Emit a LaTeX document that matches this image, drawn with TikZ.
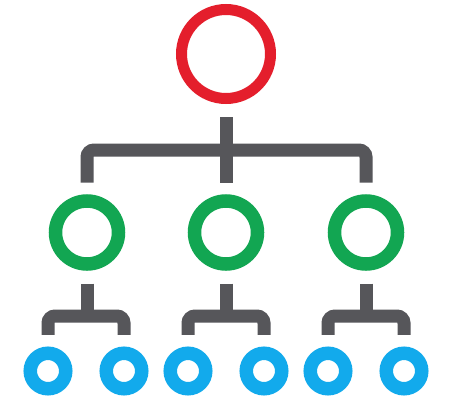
\documentclass[tikz,border=0pt]{standalone}
\begin{document}
\begin{tikzpicture}[x=1pt,y=-1pt,
  ring/.style={circle,draw,inner sep=0pt,outer sep=0pt},
  rootring/.style={ring,draw=redc,line width=11pt,minimum size=89pt},
  midring/.style={ring,draw=greenc,line width=13.5pt,minimum size=63pt},
  leafring/.style={ring,draw=bluec,line width=13.5pt,minimum size=35.5pt},
  conn/.style={draw=grayc,line width=13pt,line cap=butt,rounded corners=7pt}]
\definecolor{redc}{RGB}{228,30,44}
\definecolor{greenc}{RGB}{18,166,82}
\definecolor{bluec}{RGB}{18,170,236}
\definecolor{grayc}{RGB}{86,86,90}
\useasboundingbox (0,0) rectangle (449,402);
\fill[white] (0,0) rectangle (449,402);
% rings
\node[rootring] (root) at (226,54) {};
\node[midring] (g1) at (87,232.5) {};
\node[midring] (g2) at (226,232.5) {};
\node[midring] (g3) at (366,232.5) {};
\node[leafring] (b1) at (48,371) {};
\node[leafring] (b2) at (124,371) {};
\node[leafring] (b3) at (188,371) {};
\node[leafring] (b4) at (264,371) {};
\node[leafring] (b5) at (328,371) {};
\node[leafring] (b6) at (404,371) {};
% junction levels
\coordinate (top) at (226,150);
\coordinate (j1) at (87,316);
\coordinate (j2) at (226,316);
\coordinate (j3) at (366,316);
% top level connectors
\draw[conn] ([yshift=-18.5pt]root.south) -- (top);
\draw[conn] ([yshift=18.5pt]g1.north) -- (g1.north |- top) -- (g3.north |- top) -- ([yshift=18.5pt]g3.north);
\draw[conn] (top) -- ([yshift=18.5pt]g2.north);
% lower connectors
\draw[conn] ([yshift=-19.5pt]g1.south) -- (j1);
\draw[conn] ([yshift=18.5pt]b1.north) -- (b1.north |- j1) -- (b2.north |- j1) -- ([yshift=18.5pt]b2.north);
\draw[conn] ([yshift=-19.5pt]g2.south) -- (j2);
\draw[conn] ([yshift=18.5pt]b3.north) -- (b3.north |- j2) -- (b4.north |- j2) -- ([yshift=18.5pt]b4.north);
\draw[conn] ([yshift=-19.5pt]g3.south) -- (j3);
\draw[conn] ([yshift=18.5pt]b5.north) -- (b5.north |- j3) -- (b6.north |- j3) -- ([yshift=18.5pt]b6.north);
\end{tikzpicture}
\end{document}
